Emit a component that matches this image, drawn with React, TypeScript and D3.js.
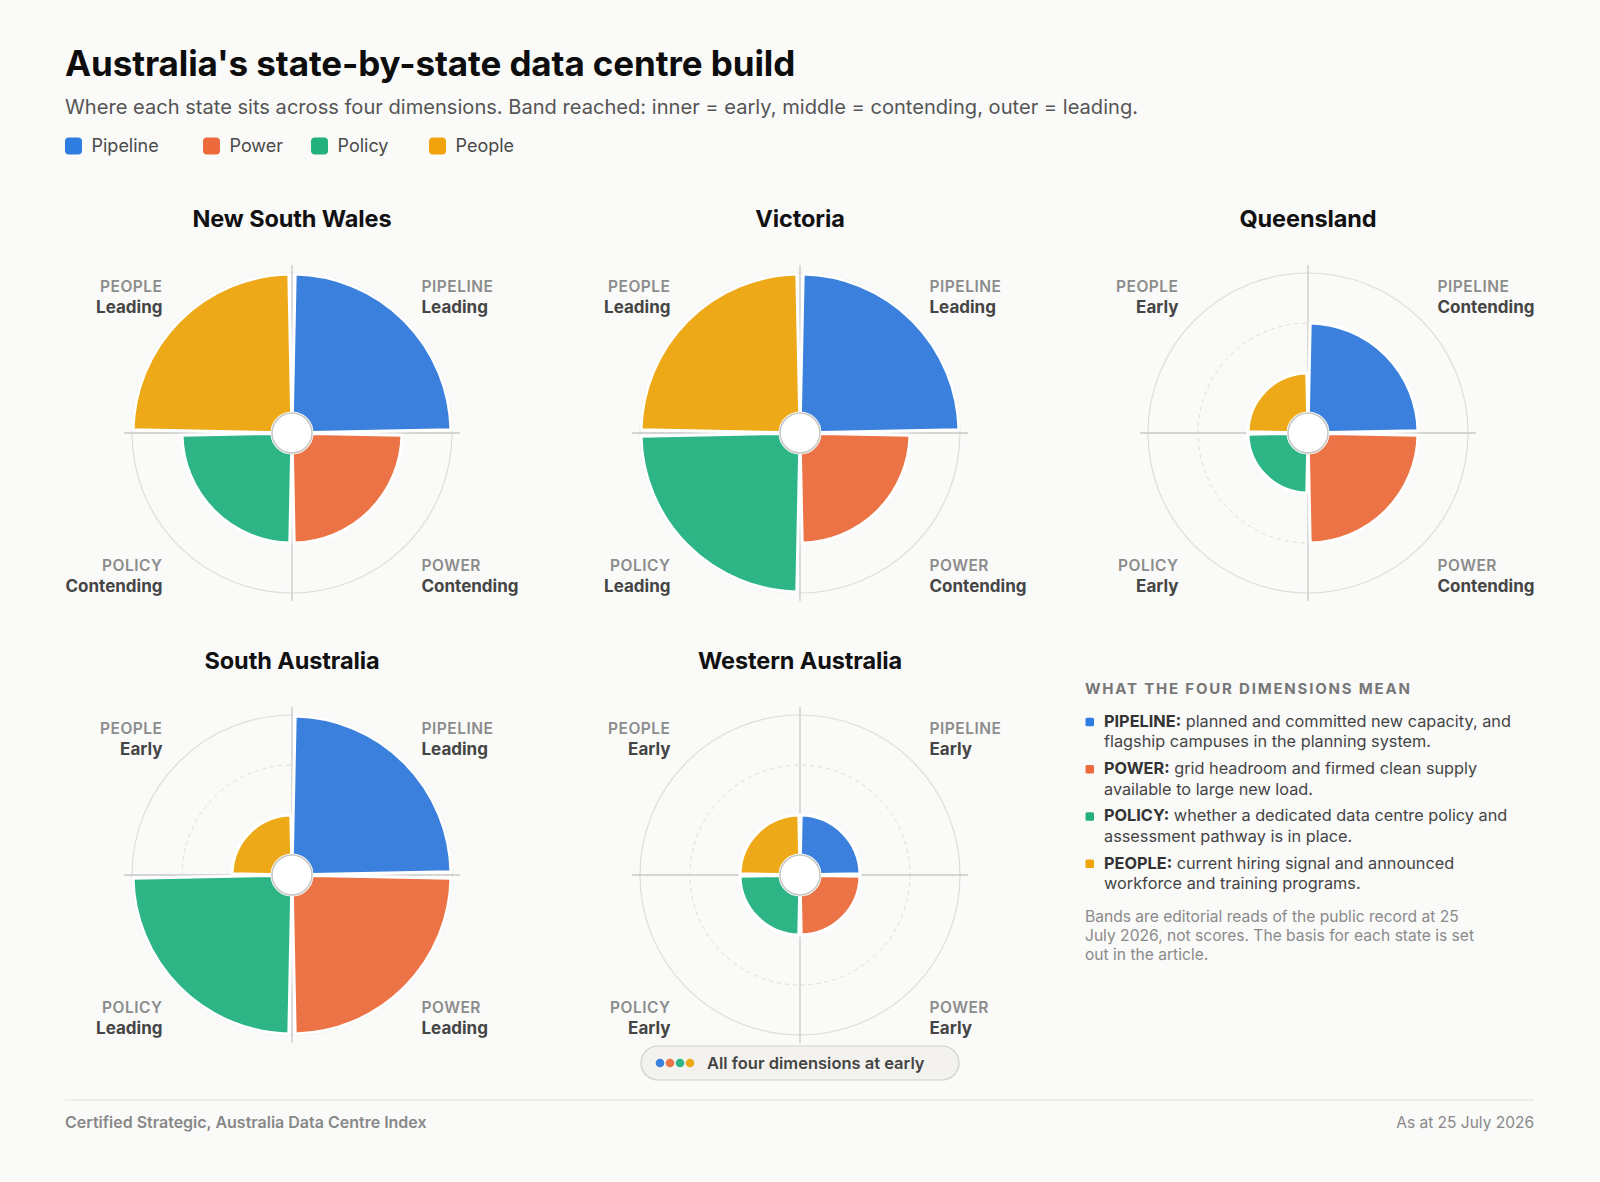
import React, { useEffect, useRef } from 'react';
import * as d3 from 'd3';

// data
const states = ['New South Wales', 'Victoria', 'Queensland', 'South Australia', 'Western Australia'];
const dimensions = ['Pipeline', 'Power', 'Policy', 'People'];
const bandNames = ['Early', 'Contending', 'Leading'];
const pipelineBand = ['Leading', 'Leading', 'Contending', 'Leading', 'Early'];
const powerBand = ['Contending', 'Contending', 'Contending', 'Leading', 'Early'];
const policyBand = ['Contending', 'Leading', 'Early', 'Leading', 'Early'];
const peopleBand = ['Leading', 'Leading', 'Early', 'Early', 'Early'];

const dimColors = ['#3a80dc', '#ec7345', '#2db586', '#eda917'];
const legendColors = ['#2f7de1', '#ec6a3c', '#22b07d', '#f0a30a'];

const noteHeads = ['PIPELINE:', 'POWER:', 'POLICY:', 'PEOPLE:'];
const noteLines = [
  ['planned and committed new capacity, and', 'flagship campuses in the planning system.'],
  ['grid headroom and firmed clean supply', 'available to large new load.'],
  ['whether a dedicated data centre policy and', 'assessment pathway is in place.'],
  ['current hiring signal and announced', 'workforce and training programs.'],
];
const footNote = [
  'Bands are editorial reads of the public record at 25',
  'July 2026, not scores. The basis for each state is set',
  'out in the article.',
];

const FONT = 'Inter, "Noto Sans", sans-serif';

function App() {
  const ref = useRef<SVGSVGElement>(null);

  useEffect(() => {
    const svg = d3.select(ref.current);
    svg.selectAll('*').remove();
    const W = 1600, H = 1182;

    svg.append('rect').attr('width', W).attr('height', H).attr('fill', '#fafaf9');

    svg.append('text').attr('x', 65).attr('y', 76)
      .attr('font-family', FONT).attr('font-size', 35).attr('font-weight', 700)
      .attr('letter-spacing', -0.1).attr('fill', '#0d0d0d')
      .text("Australia's state-by-state data centre build");

    svg.append('text').attr('x', 65).attr('y', 114)
      .attr('font-family', FONT).attr('font-size', 20.1).attr('fill', '#555')
      .text('Where each state sits across four dimensions. Band reached: inner = early, middle = contending, outer = leading.');

    // legend
    const legendX = [65, 203, 311, 429];
    const lg = svg.append('g').selectAll('g').data(dimensions).join('g')
      .attr('transform', (d, i) => `translate(${legendX[i]},0)`);
    lg.append('rect').attr('y', 137.5).attr('width', 17).attr('height', 17).attr('rx', 4)
      .attr('fill', (d, i) => legendColors[i]);
    lg.append('text').attr('x', 26.5).attr('y', 151.7)
      .attr('font-family', FONT).attr('font-size', 18).attr('fill', '#4a4a4a')
      .text(d => d);

    // radial layout
    const colX = d3.scaleLinear().domain([0, 2]).range([292, 1308]);
    const rowY = d3.scaleLinear().domain([0, 1]).range([433, 875]);
    const rScale = d3.scaleOrdinal<string, number>().domain(bandNames).range([60, 110, 159]);
    const angle = d3.scaleBand().domain(dimensions).range([0, 2 * Math.PI]);
    const off = 0.02;
    const arc = d3.arc<any>()
      .innerRadius(20)
      .outerRadius(d => rScale(d.band))
      .startAngle(d => angle(d.dim)! + off)
      .endAngle(d => angle(d.dim)! + angle.bandwidth() - off);

    const bandsByDim = [pipelineBand, powerBand, policyBand, peopleBand];
    const cornerSide = [
      { sx: 1, sy: -1 }, { sx: 1, sy: 1 }, { sx: -1, sy: 1 }, { sx: -1, sy: -1 },
    ];

    states.forEach((name, si) => {
      const cx = colX(si % 3), cy = rowY(Math.floor(si / 3));
      const g = svg.append('g').attr('transform', `translate(${cx},${cy})`);
      const rows = dimensions.map((dim, di) => ({ dim, di, band: bandsByDim[di][si] }));

      g.append('text').attr('y', -206).attr('text-anchor', 'middle')
        .attr('font-family', FONT).attr('font-size', 23.5).attr('font-weight', 700)
        .attr('letter-spacing', -0.1).attr('fill', '#111').text(name);

      g.append('circle').attr('r', 160).attr('fill', 'none').attr('stroke', '#dcdcd8').attr('stroke-width', 1.2);
      g.append('circle').attr('r', rScale('Contending')).attr('fill', 'none')
        .attr('stroke', '#dcdcd8').attr('stroke-width', 1).attr('stroke-dasharray', '4,4');
      g.append('line').attr('x1', -168).attr('x2', 168).attr('stroke', '#c9c9c6').attr('stroke-width', 1.3);
      g.append('line').attr('y1', -168).attr('y2', 168).attr('stroke', '#c9c9c6').attr('stroke-width', 1.3);

      g.selectAll('path.w').data(rows).join('path').attr('class', 'w')
        .attr('d', arc).attr('fill', d => dimColors[d.di])
        .attr('stroke', '#fff').attr('stroke-width', 3).attr('stroke-linejoin', 'miter');

      g.append('circle').attr('r', 20).attr('fill', '#fff').attr('stroke', '#c6c6c2').attr('stroke-width', 1.5);

      rows.forEach(d => {
        const { sx, sy } = cornerSide[d.di];
        const x = sx * 129.5;
        const anchor = sx > 0 ? 'start' : 'end';
        const y1 = sy < 0 ? -141.5 : 137.5;
        g.append('text').attr('x', x).attr('y', y1).attr('text-anchor', anchor)
          .attr('font-family', FONT).attr('font-size', 15.5).attr('font-weight', 600)
          .attr('letter-spacing', 0.5).attr('fill', '#8c8c8c').text(d.dim.toUpperCase());
        g.append('text').attr('x', x).attr('y', y1 + 21.5).attr('text-anchor', anchor)
          .attr('font-family', FONT).attr('font-size', 17).attr('font-weight', 700)
          .attr('fill', '#454545').text(d.band);
      });

      if (rows.every(d => d.band === bandNames[0])) {
        const b = g.append('g').attr('transform', 'translate(0,188)');
        b.append('rect').attr('x', -159).attr('y', -17).attr('width', 318).attr('height', 34).attr('rx', 17)
          .attr('fill', '#f3f2ee').attr('stroke', '#cfcfcb').attr('stroke-width', 1.2);
        b.selectAll('circle').data(dimensions).join('circle')
          .attr('cx', (d, i) => -140 + i * 10).attr('cy', 0).attr('r', 4.3)
          .attr('fill', (d, i) => dimColors[i]);
        b.append('text').attr('x', -93).attr('y', 5.5)
          .attr('font-family', FONT).attr('font-size', 16.5).attr('font-weight', 600)
          .attr('fill', '#444').text('All four dimensions at early');
      }
    });

    // explanation panel
    const px = 1085;
    svg.append('text').attr('x', px).attr('y', 694)
      .attr('font-family', FONT).attr('font-size', 15).attr('font-weight', 700)
      .attr('letter-spacing', 1.8).attr('fill', '#777').text('WHAT THE FOUR DIMENSIONS MEAN');
    noteHeads.forEach((h, i) => {
      const y = 726.7 + i * 47.3;
      svg.append('rect').attr('x', px + 0.5).attr('y', y - 9).attr('width', 8.5).attr('height', 8.5).attr('rx', 1.5)
        .attr('fill', legendColors[i]);
      const t = svg.append('text').attr('x', px + 19).attr('y', y)
        .attr('font-family', FONT).attr('font-size', 16.3).attr('fill', '#444');
      t.append('tspan').attr('font-weight', 700).attr('fill', '#333').text(h);
      t.append('tspan').text(' ' + noteLines[i][0]);
      svg.append('text').attr('x', px + 19).attr('y', y + 20.6)
        .attr('font-family', FONT).attr('font-size', 16.3).attr('fill', '#444').text(noteLines[i][1]);
    });
    footNote.forEach((l, i) => {
      svg.append('text').attr('x', px).attr('y', 921.7 + i * 19.2)
        .attr('font-family', FONT).attr('font-size', 15.6).attr('fill', '#8a8a8a').text(l);
    });

    // footer
    svg.append('line').attr('x1', 65).attr('x2', 1534).attr('y1', 1100).attr('y2', 1100)
      .attr('stroke', '#e0e0dc').attr('stroke-width', 1.2);
    svg.append('text').attr('x', 65).attr('y', 1128)
      .attr('font-family', FONT).attr('font-size', 16).attr('font-weight', 600).attr('fill', '#888')
      .text('Certified Strategic, Australia Data Centre Index');
    svg.append('text').attr('x', 1534).attr('y', 1128).attr('text-anchor', 'end')
      .attr('font-family', FONT).attr('font-size', 15.5).attr('fill', '#888')
      .text('As at 25 July 2026');
  }, []);

  return (
    <div style={{ position: 'absolute', left: 0, top: 0 }}>
      <svg ref={ref} width={1600} height={1182} style={{ display: 'block' }} />
    </div>
  );
}

export default App;
